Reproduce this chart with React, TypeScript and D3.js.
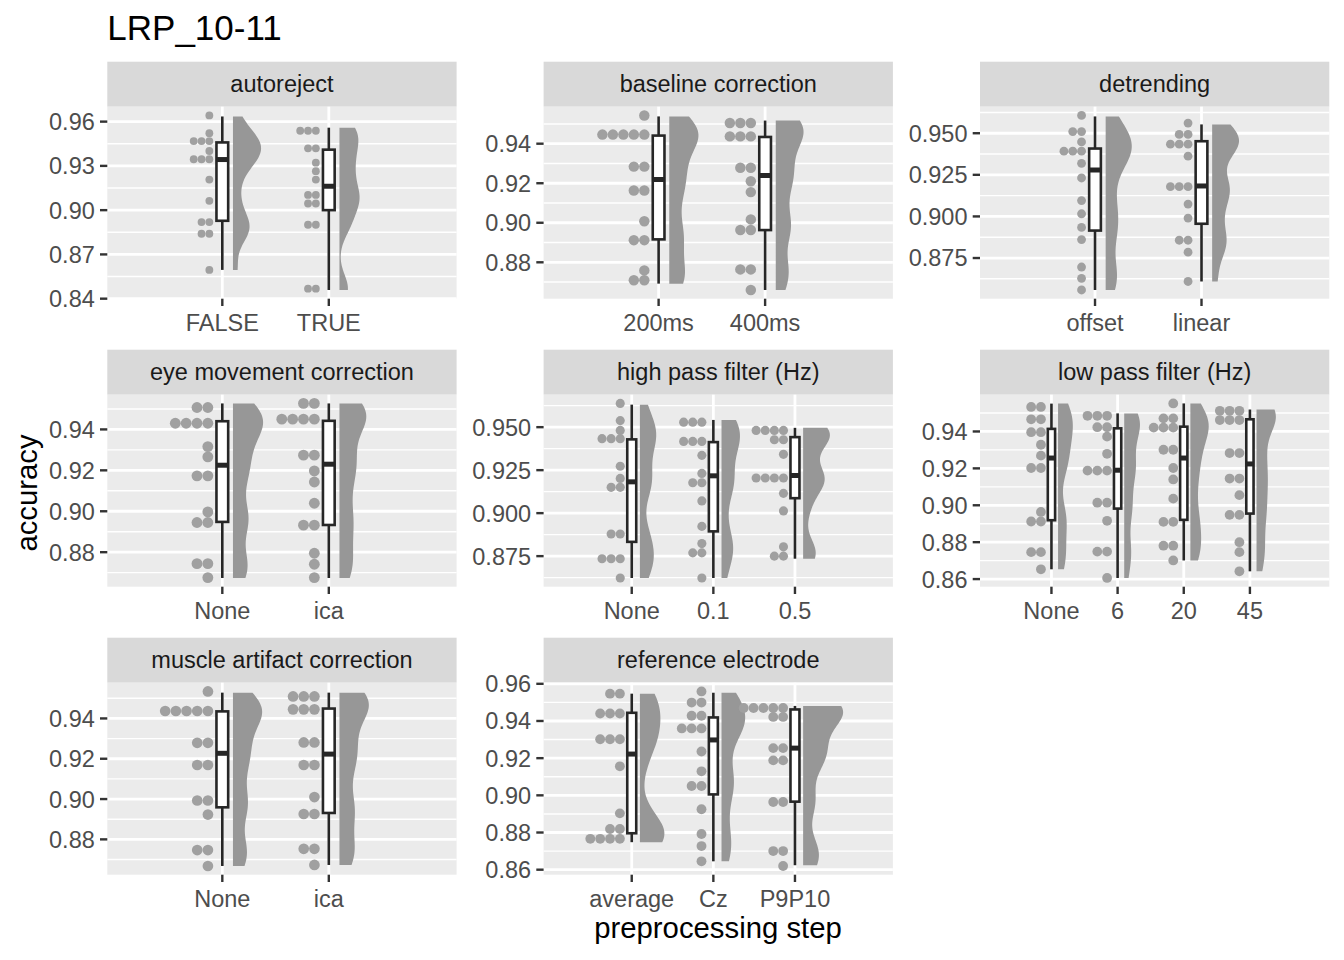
import * as d3 from 'd3'

const plotTitle = 'LRP_10-11'
const xAxisTitle = 'preprocessing step'
const yAxisTitle = 'accuracy'

const facetNames = [
  'autoreject',
  'baseline correction',
  'detrending',
  'eye movement correction',
  'high pass filter (Hz)',
  'low pass filter (Hz)',
  'muscle artifact correction',
  'reference electrode',
]

const facetLevels = [
  ['FALSE', 'TRUE'],
  ['200ms', '400ms'],
  ['offset', 'linear'],
  ['None', 'ica'],
  ['None', '0.1', '0.5'],
  ['None', '6', '20', '45'],
  ['None', 'ica'],
  ['average', 'Cz', 'P9P10'],
]

const facetTicks = [
  ['0.84', '0.87', '0.90', '0.93', '0.96'],
  ['0.88', '0.90', '0.92', '0.94'],
  ['0.875', '0.900', '0.925', '0.950'],
  ['0.88', '0.90', '0.92', '0.94'],
  ['0.875', '0.900', '0.925', '0.950'],
  ['0.86', '0.88', '0.90', '0.92', '0.94'],
  ['0.88', '0.90', '0.92', '0.94'],
  ['0.86', '0.88', '0.90', '0.92', '0.94', '0.96'],
]

// dots: [accuracy, number of dots stacked in that bin], one list per level
const autorejectDots = [
  [[0.9642, 1], [0.9522, 1], [0.9468, 3], [0.9401, 1], [0.9345, 3], [0.9207, 1], [0.9063, 1], [0.8919, 2], [0.884, 2], [0.8595, 1]],
  [[0.9538, 3], [0.9419, 2], [0.9322, 1], [0.9264, 1], [0.9207, 1], [0.9103, 2], [0.9045, 2], [0.8901, 2], [0.8468, 2]],
]
const baselineDots = [
  [[0.9543, 1], [0.9446, 5], [0.9284, 2], [0.9163, 2], [0.9008, 1], [0.8912, 2], [0.8759, 1], [0.8709, 2]],
  [[0.9505, 3], [0.9437, 3], [0.9278, 2], [0.921, 1], [0.9155, 1], [0.9017, 1], [0.8963, 2], [0.8764, 2], [0.866, 1]],
]
const detrendDots = [
  [[0.9607, 1], [0.951, 2], [0.9448, 1], [0.9392, 3], [0.9319, 1], [0.9231, 1], [0.9095, 1], [0.9016, 1], [0.8934, 1], [0.8861, 1], [0.8696, 1], [0.8628, 1], [0.8558, 1]],
  [[0.9561, 1], [0.9493, 2], [0.9434, 3], [0.9362, 1], [0.9179, 3], [0.9074, 1], [0.899, 1], [0.8857, 2], [0.8785, 1], [0.8609, 1]],
]
const eyeDots = [
  [[0.9507, 2], [0.943, 4], [0.9316, 1], [0.9266, 1], [0.9173, 2], [0.8997, 1], [0.8945, 2], [0.8744, 2], [0.8676, 1]],
  [[0.9527, 2], [0.945, 4], [0.9274, 2], [0.9197, 1], [0.9143, 1], [0.9039, 1], [0.8932, 2], [0.8795, 1], [0.8741, 1], [0.8676, 1]],
]
const highPassDots = [
  [[0.9638, 1], [0.9538, 1], [0.9481, 1], [0.9433, 3], [0.9273, 1], [0.9202, 1], [0.915, 2], [0.8879, 2], [0.8735, 3], [0.8623, 1]],
  [[0.9529, 3], [0.9417, 3], [0.9336, 1], [0.9231, 1], [0.9177, 2], [0.9071, 1], [0.8923, 1], [0.8823, 1], [0.8769, 2], [0.8623, 1]],
  [[0.9481, 4], [0.9427, 2], [0.9342, 1], [0.9204, 4], [0.9115, 1], [0.9013, 1], [0.8804, 1], [0.875, 2]],
]
const lowPassDots = [
  [[0.9533, 2], [0.9466, 2], [0.9396, 2], [0.9328, 1], [0.9269, 1], [0.9202, 2], [0.8964, 1], [0.8912, 2], [0.8746, 2], [0.8653, 1]],
  [[0.9485, 3], [0.9423, 2], [0.9372, 1], [0.9279, 1], [0.9188, 3], [0.9014, 2], [0.8916, 1], [0.8749, 2], [0.8606, 1]],
  [[0.9552, 1], [0.9471, 2], [0.9421, 3], [0.9301, 2], [0.9202, 1], [0.914, 1], [0.9036, 1], [0.891, 2], [0.8781, 2], [0.8701, 1]],
  [[0.9512, 3], [0.9462, 3], [0.9283, 2], [0.9145, 2], [0.9055, 1], [0.8948, 2], [0.88, 1], [0.8746, 1], [0.8642, 1]],
]
const muscleDots = [
  [[0.9534, 1], [0.9437, 5], [0.9279, 2], [0.9169, 2], [0.8993, 2], [0.8923, 1], [0.8747, 2], [0.8668, 1]],
  [[0.9509, 3], [0.9445, 3], [0.9281, 2], [0.9169, 2], [0.901, 1], [0.8926, 2], [0.8753, 2], [0.8673, 1]],
]
const referenceDots = [
  [[0.9547, 2], [0.944, 3], [0.9302, 3], [0.9156, 1], [0.8903, 1], [0.8819, 2], [0.8766, 4]],
  [[0.9559, 1], [0.9499, 2], [0.9428, 2], [0.936, 3], [0.9236, 1], [0.9129, 1], [0.905, 2], [0.8925, 1], [0.8792, 1], [0.8727, 1], [0.8645, 1]],
  [[0.947, 5], [0.9422, 2], [0.9254, 2], [0.9188, 2], [0.8964, 2], [0.87, 2], [0.862, 1]],
]

// boxes: [lower whisker, q1, median, q3, upper whisker], one per level
const autorejectBoxes = [[0.8595, 0.8928, 0.9343, 0.9459, 0.9635], [0.8459, 0.9, 0.9162, 0.941, 0.9559]]
const baselineBoxes = [[0.8692, 0.8916, 0.9219, 0.9441, 0.9538], [0.866, 0.8963, 0.9239, 0.9434, 0.9517]]
const detrendBoxes = [[0.8558, 0.8915, 0.9279, 0.9408, 0.9601], [0.8609, 0.8956, 0.9183, 0.9452, 0.9553]]
const eyeBoxes = [[0.8674, 0.8948, 0.9225, 0.944, 0.9527], [0.8674, 0.8933, 0.923, 0.9442, 0.9527]]
const highPassBoxes = [[0.8623, 0.8833, 0.9182, 0.9429, 0.9631], [0.8623, 0.8894, 0.9217, 0.9413, 0.9542], [0.8735, 0.9087, 0.9219, 0.9442, 0.9496]]
const lowPassBoxes = [[0.8653, 0.8919, 0.9256, 0.9414, 0.9551], [0.8606, 0.8982, 0.919, 0.9417, 0.9498], [0.8701, 0.8921, 0.9256, 0.9426, 0.9552], [0.8642, 0.8955, 0.9224, 0.9466, 0.9519]]
const muscleBoxes = [[0.8668, 0.8959, 0.9227, 0.9435, 0.9528], [0.8673, 0.8931, 0.9223, 0.9449, 0.9528]]
const referenceBoxes = [[0.8748, 0.8796, 0.9222, 0.9444, 0.9547], [0.8645, 0.9005, 0.9298, 0.9419, 0.9552], [0.8624, 0.8966, 0.9254, 0.9462, 0.9481]]

// half-violin peak thickness per level, in category widths
const slabPeaks = [
  [0.264, 0.189],
  [0.274, 0.261],
  [0.245, 0.252],
  [0.283, 0.252],
  [0.2, 0.226, 0.328],
  [0.223, 0.238, 0.277, 0.292],
  [0.274, 0.276],
  [0.3, 0.29, 0.49],
]

const facetDots = [autorejectDots, baselineDots, detrendDots, eyeDots, highPassDots, lowPassDots, muscleDots, referenceDots]
const facetBoxes = [autorejectBoxes, baselineBoxes, detrendBoxes, eyeBoxes, highPassBoxes, lowPassBoxes, muscleBoxes, referenceBoxes]

const FONT = '"Liberation Sans", Arial, Helvetica, sans-serif'
const BINWIDTH = 0.0053
const ADJUST = 0.6

// layout (px)
const colX = [107.3, 543.6, 980]
const rowY = [61.7, 349.7, 637.7]
const panelW = 349.3
const stripH = 45
const panelH = 192

function nrd0(v: number[]) {
  const s = v.slice().sort(d3.ascending)
  const sd = d3.deviation(s) ?? 0
  const iqr = (d3.quantile(s, 0.75)! - d3.quantile(s, 0.25)!) / 1.34
  const lo = Math.min(sd, iqr) || sd
  return 0.9 * lo * Math.pow(s.length, -0.2)
}

function kde(v: number[], lo: number, hi: number, h: number) {
  return d3.range(0, 121).map(k => {
    const y = lo + ((hi - lo) * k) / 120
    const d = d3.sum(v, x => Math.exp(-0.5 * ((y - x) / h) ** 2)) / (v.length * h * Math.sqrt(2 * Math.PI))
    return [y, d] as [number, number]
  })
}

const expanded = facetDots.map(f => f.map(lvl => lvl.flatMap(([v, c]) => d3.range(c).map(() => v))))
const densities = expanded.map((f, i) =>
  f.map((vals, j) => {
    const b = facetBoxes[i][j]
    return kde(vals, b[0], b[4], nrd0(vals) * ADJUST)
  })
)

function Panel({ i }: { i: number }) {
  const col = i % 3
  const row = Math.floor(i / 3)
  const left = colX[col]
  const top = rowY[row] + stripH
  const bottom = top + panelH
  const levels = facetLevels[i]
  const n = levels.length

  const x = d3.scaleLinear().domain([-1.08, n - 1 + 1.2]).range([left, left + panelW])
  const unit = x(1) - x(0)

  const allVals = [...expanded[i].flat(), ...facetBoxes[i].flat()]
  const [lo, hi] = d3.extent(allVals) as [number, number]
  const pad = (hi - lo) * 0.05
  const y = d3.scaleLinear().domain([lo - pad, hi + pad]).range([bottom, top])
  const pxPerUnit = y(0) - y(1)
  const dia = BINWIDTH * pxPerUnit
  const r = dia / 2

  const ticks = facetTicks[i].map(Number)
  const step = ticks[1] - ticks[0]
  const minors = [ticks[0] - step / 2, ...ticks.map(t => t + step / 2)].filter(
    t => t > y.domain()[0] && t < y.domain()[1]
  )

  const area = d3.area<[number, number]>().y(d => y(d[0]))

  return (
    <g>
      <rect x={left} y={rowY[row]} width={panelW} height={stripH} fill="#D9D9D9" />
      <text
        x={left + panelW / 2}
        y={rowY[row] + stripH / 2}
        dy="0.35em"
        textAnchor="middle"
        fontSize={23.5}
        fill="#1A1A1A"
      >
        {facetNames[i]}
      </text>
      <rect x={left} y={top} width={panelW} height={panelH} fill="#EBEBEB" />
      {minors.map(t => (
        <line key={'m' + t} x1={left} x2={left + panelW} y1={y(t)} y2={y(t)} stroke="#fff" strokeWidth={1.4} />
      ))}
      {ticks.map(t => (
        <line key={'M' + t} x1={left} x2={left + panelW} y1={y(t)} y2={y(t)} stroke="#fff" strokeWidth={2.8} />
      ))}
      {levels.map((l, j) => (
        <line key={'v' + l} x1={x(j)} x2={x(j)} y1={top} y2={bottom} stroke="#fff" strokeWidth={2.8} />
      ))}

      {/* half violins */}
      {densities[i].map((dens, j) => {
        const x0 = x(j) + 0.1 * unit
        const peak = d3.max(dens, d => d[1])!
        const path = area.x0(x0).x1(d => x0 + (d[1] / peak) * slabPeaks[i][j] * unit)(dens)
        return <path key={'s' + j} d={path ?? ''} fill="#979797" />
      })}

      {/* boxes */}
      {facetBoxes[i].map((b, j) => {
        const cx = x(j)
        const hw = 0.055 * unit
        return (
          <g key={'b' + j} stroke="#262626" strokeWidth={2.6}>
            <line x1={cx} x2={cx} y1={y(b[4])} y2={y(b[3])} />
            <line x1={cx} x2={cx} y1={y(b[1])} y2={y(b[0])} />
            <rect x={cx - hw} y={y(b[3])} width={2 * hw} height={y(b[1]) - y(b[3])} fill="#fff" />
            <line x1={cx - hw} x2={cx + hw} y1={y(b[2])} y2={y(b[2])} strokeWidth={5} />
          </g>
        )
      })}

      {/* dots */}
      {facetDots[i].map((lvl, j) =>
        lvl.flatMap(([v, c]) =>
          d3.range(c).map(k => (
            <circle
              key={`d${j}-${v}-${k}`}
              cx={x(j) - 0.085 * unit - r - k * dia}
              cy={y(v)}
              r={r}
              fill="#A0A0A0"
            />
          ))
        )
      )}

      {/* y axis */}
      {ticks.map((t, k) => (
        <g key={'yt' + t}>
          <line x1={left - 7.3} x2={left} y1={y(t)} y2={y(t)} stroke="#333" strokeWidth={2.4} />
          <text x={left - 12.5} y={y(t)} dy="0.36em" textAnchor="end" fontSize={23.5} fill="#4D4D4D">
            {facetTicks[i][k]}
          </text>
        </g>
      ))}
      {/* x axis */}
      {levels.map((l, j) => (
        <g key={'xt' + l}>
          <line x1={x(j)} x2={x(j)} y1={bottom} y2={bottom + 7.3} stroke="#333" strokeWidth={2.4} />
          <text x={x(j)} y={bottom + 32} textAnchor="middle" fontSize={23.5} fill="#4D4D4D">
            {l}
          </text>
        </g>
      ))}
    </g>
  )
}

export default function App() {
  return (
    <svg
      width={1344}
      height={960}
      style={{ position: 'absolute', left: 0, top: 0, display: 'block', background: '#fff' }}
      fontFamily={FONT}
    >
      <rect width={1344} height={960} fill="#fff" />
      <text x={107.3} y={40} fontSize={35} fill="#000">
        {plotTitle}
      </text>
      {facetNames.map((_, i) => (
        <Panel key={i} i={i} />
      ))}
      <text x={718} y={938} textAnchor="middle" fontSize={29.3} fill="#000">
        {xAxisTitle}
      </text>
      <text transform="translate(37,493) rotate(-90)" textAnchor="middle" fontSize={29.3} fill="#000">
        {yAxisTitle}
      </text>
    </svg>
  )
}
